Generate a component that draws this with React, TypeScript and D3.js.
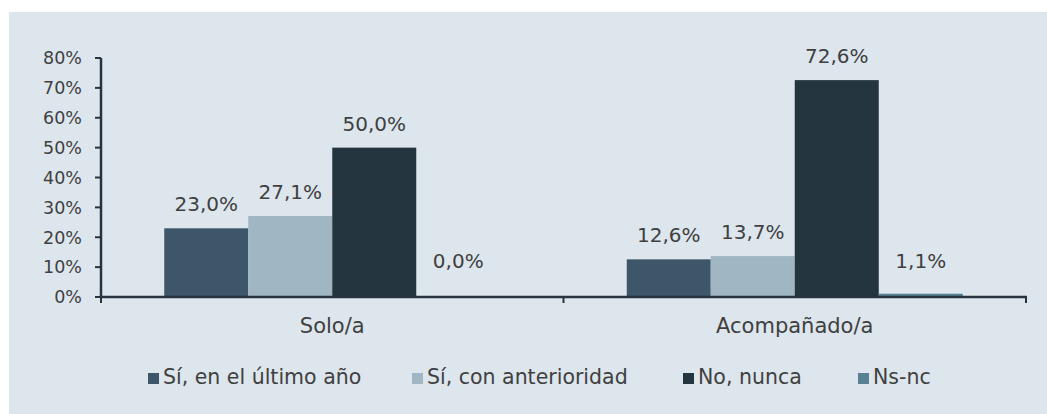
import React from 'react';
import * as d3 from 'd3';

const categories = ['Solo/a', 'Acompañado/a'];
const seriesNames = ['Sí, en el último año', 'Sí, con anterioridad', 'No, nunca', 'Ns-nc'];
const soloValues = [23.0, 27.1, 50.0, 0.0];
const acompanadoValues = [12.6, 13.7, 72.6, 1.1];
const yTicks = [0, 10, 20, 30, 40, 50, 60, 70, 80];

const colors = ['#3d566a', '#a0b7c3', '#25353f', '#5a8193'];
const font = '"DejaVu Sans", sans-serif';
const textColor = '#404040';
const axisColor = '#27343d';

const W = 1047;
const H = 414;
const margin = { left: 101, right: 21, top: 58, bottom: 117 };

const App = () => {
  const valuesByCat = [soloValues, acompanadoValues];

  const x0 = d3
    .scaleBand<string>()
    .domain(categories)
    .range([margin.left, W - margin.right]);

  const x1 = d3
    .scaleBand<string>()
    .domain(seriesNames)
    .range([0, x0.bandwidth()])
    .paddingInner(0)
    .paddingOuter(0.753);

  const y = d3
    .scaleLinear()
    .domain([0, 80])
    .range([H - margin.bottom, margin.top]);

  const fmt = (v: number) => v.toFixed(1).replace('.', ',') + '%';
  const y0 = y(0);

  // legend layout
  const legendX = [148, 412, 683, 858];
  const legendY = 373;

  return (
    <div style={{ position: 'absolute', left: 0, top: 0 }}>
      <svg width={W} height={H} style={{ display: 'block' }}>
        <rect x={0} y={0} width={W} height={H} fill="#ffffff" />
        <rect x={9} y={12} width={W - 9} height={H - 12} fill="#dde6ed" />

        {/* bars */}
        {categories.map((c, ci) => (
          <g key={c} transform={`translate(${x0(c)},0)`}>
            {seriesNames.map((s, si) => {
              const v = valuesByCat[ci][si];
              return (
                <rect
                  key={s}
                  x={x1(s)}
                  y={y(v)}
                  width={x1.bandwidth()}
                  height={y0 - y(v)}
                  fill={colors[si]}
                />
              );
            })}
            {seriesNames.map((s, si) => {
              const v = valuesByCat[ci][si];
              const by = Math.min(y(v) - 17, y0 - 29);
              return (
                <text
                  key={s + '-l'}
                  x={(x1(s) as number) + x1.bandwidth() / 2}
                  y={by}
                  textAnchor="middle"
                  fontFamily={font}
                  fontSize={20}
                  fill={textColor}
                >
                  {fmt(v)}
                </text>
              );
            })}
          </g>
        ))}

        {/* y axis */}
        <line x1={margin.left} x2={margin.left} y1={y(80)} y2={y0} stroke={axisColor} strokeWidth={2.5} />
        {yTicks.map((t) => (
          <g key={t}>
            <line x1={margin.left - 6} x2={margin.left} y1={y(t)} y2={y(t)} stroke={axisColor} strokeWidth={2} />
            <text
              x={margin.left - 19}
              y={y(t)}
              dy="0.36em"
              textAnchor="end"
              fontFamily={font}
              fontSize={17.5}
              fill={textColor}
            >
              {t}%
            </text>
          </g>
        ))}

        {/* x axis */}
        <line x1={margin.left - 1} x2={W - margin.right + 1} y1={y0} y2={y0} stroke={axisColor} strokeWidth={2.5} />
        {[...categories.map((c) => x0(c) as number), W - margin.right].map((tx, i) => (
          <line key={i} x1={tx} x2={tx} y1={y0} y2={y0 + 6} stroke={axisColor} strokeWidth={2} />
        ))}
        {categories.map((c) => (
          <text
            key={c}
            x={(x0(c) as number) + x0.bandwidth() / 2}
            y={333}
            textAnchor="middle"
            fontFamily={font}
            fontSize={21}
            fill={textColor}
          >
            {c}
          </text>
        ))}

        {/* legend */}
        {seriesNames.map((s, i) => (
          <g key={s} transform={`translate(${legendX[i]},${legendY})`}>
            <rect x={0} y={0} width={11} height={11} fill={colors[i]} />
            <text x={15} y={11} fontFamily={font} fontSize={20.5} fill={textColor}>
              {s}
            </text>
          </g>
        ))}
      </svg>
    </div>
  );
};

export default App;
